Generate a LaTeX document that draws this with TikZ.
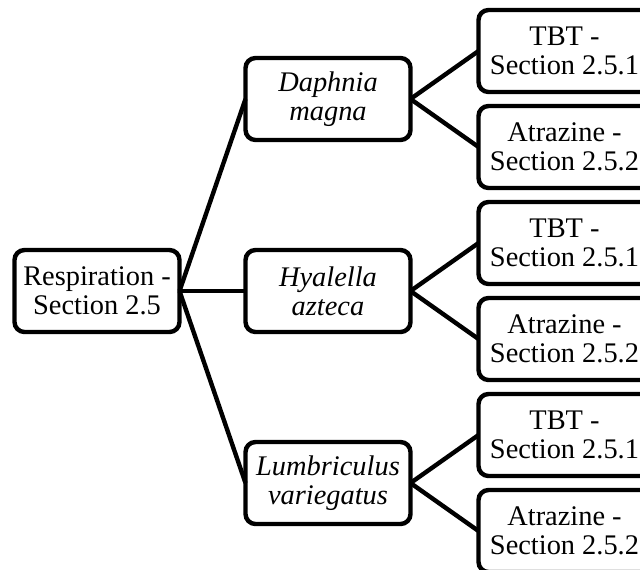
\documentclass[tikz,border=0pt]{standalone}
\usepackage{fontspec}
\setmainfont{Liberation Serif}
\usetikzlibrary{positioning}

\begin{document}
\begin{tikzpicture}[
			node distance=33pt,
			box/.style={rectangle, draw, line width=2.2pt, rounded corners=5pt, align=center,
				minimum height=41pt, minimum width=82.5pt, inner sep=1pt, outer sep=0pt,
				font=\fontsize{14.2}{14.5}\selectfont},
			leaf/.style={box, minimum width=86pt},
			link/.style={line width=2.2pt}
		]
			\useasboundingbox (-48.5pt,-139pt) rectangle (271.5pt,145.5pt);
			\node[box] (resp) at (0,0) {Respiration -\\Section 2.5};
			\node[box, right=of resp] (hya) {\textit{Hyalella}\\\textit{azteca}};
			\node[box, above=55pt of hya] (daph) {\textit{Daphnia}\\\textit{magna}};
			\node[box, below=55pt of hya] (lumb) {\textit{Lumbriculus}\\\textit{variegatus}};

			\node[leaf, above right=3.5pt and 34pt of daph.east] (daphtbt) {TBT -\\Section 2.5.1};
			\node[leaf, below right=3.5pt and 34pt of daph.east] (daphatr) {Atrazine -\\Section 2.5.2};
			\node[leaf, above right=3.5pt and 34pt of hya.east] (hyatbt) {TBT -\\Section 2.5.1};
			\node[leaf, below right=3.5pt and 34pt of hya.east] (hyaatr) {Atrazine -\\Section 2.5.2};
			\node[leaf, above right=3.5pt and 34pt of lumb.east] (lumbtbt) {TBT -\\Section 2.5.1};
			\node[leaf, below right=3.5pt and 34pt of lumb.east] (lumbatr) {Atrazine -\\Section 2.5.2};

			\draw[link] (resp.east) -- (daph.west);
			\draw[link] (resp.east) -- (hya.west);
			\draw[link] (resp.east) -- (lumb.west);
			\draw[link] (daph.east) -- (daphtbt.west);
			\draw[link] (daph.east) -- (daphatr.west);
			\draw[link] (hya.east) -- (hyatbt.west);
			\draw[link] (hya.east) -- (hyaatr.west);
			\draw[link] (lumb.east) -- (lumbtbt.west);
			\draw[link] (lumb.east) -- (lumbatr.west);
		\end{tikzpicture}
\end{document}
